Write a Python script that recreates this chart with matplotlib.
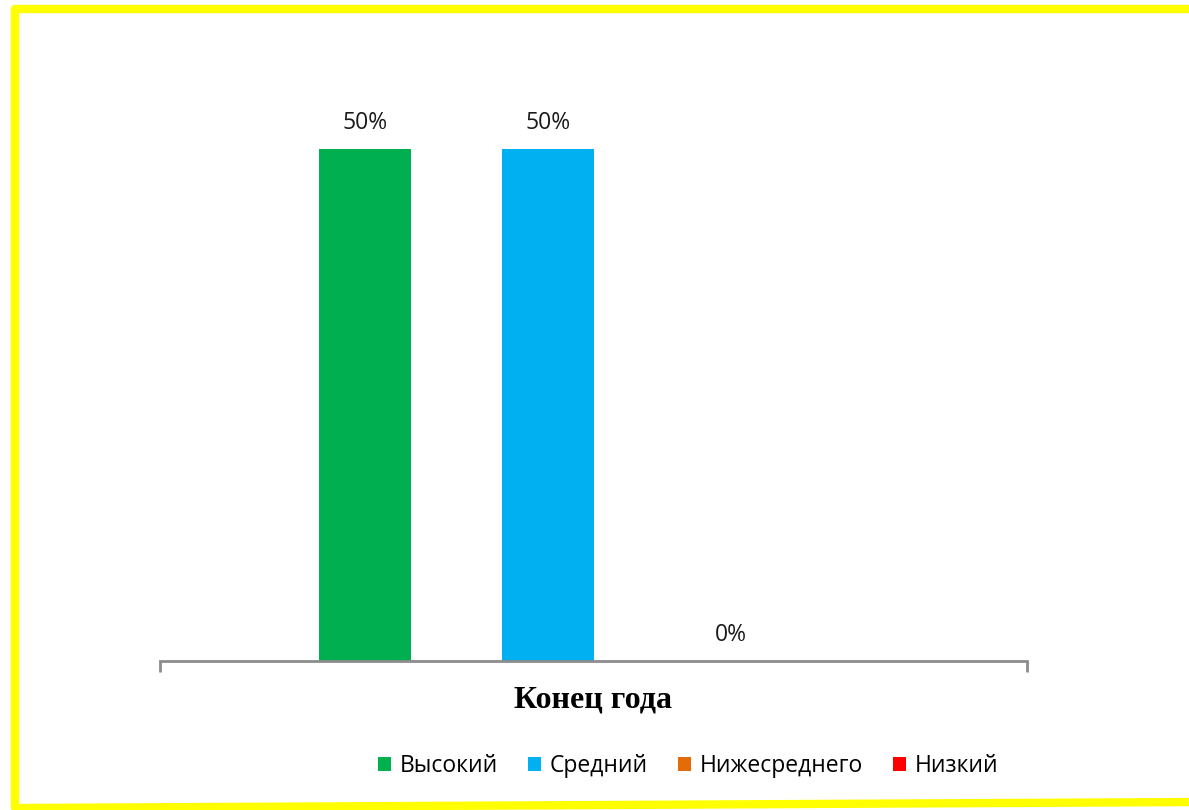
import matplotlib
matplotlib.use("Agg")
import matplotlib.pyplot as plt
from matplotlib.lines import Line2D
from matplotlib.patches import Patch

categories = ["Высокий", "Средний", "Нижесреднего", "Низкий"]
values = [0.50, 0.50, 0.0, None]
labels = ["50%", "50%", "0%", ""]
colors = ["#00B050", "#00B0F0", "#E36C09", "#FF0000"]
group_title = "Конец года"

W, H = 1189, 810
fig = plt.figure(figsize=(W / 100, H / 100), dpi=100)
ax = fig.add_axes([160 / W, 1 - 661 / H, 867 / W, (661 - 47) / H])

xs = list(range(len(categories)))
for x, v, lab, c in zip(xs, values, labels, colors):
    h = v if v is not None else 0
    ax.bar(x, h, width=0.503, color=c)
    if lab:
        ax.text(x, h + 0.02, lab, ha="center", va="baseline",
                fontsize=16.5, family="Open Sans", color="#1a1a1a")

ax.set_xlim(-1.12, 3.617)
ax.set_ylim(0, 0.6)
ax.set_yticks([])
ax.set_xticks([-1.12, 3.617])
ax.set_xticklabels([])
ax.tick_params(axis="x", length=8, width=2, color="#8c8c8c", direction="out")
for s in ["top", "right", "left"]:
    ax.spines[s].set_visible(False)
ax.spines["bottom"].set_color("#8c8c8c")
ax.spines["bottom"].set_linewidth(2)

fig.text(593 / W, 1 - 700 / H, group_title, ha="center", va="center",
         fontsize=23, fontweight="bold", family="Liberation Serif")

handles = [Patch(facecolor=c, edgecolor="none") for c in colors]
fig.legend(handles, categories, loc="center", bbox_to_anchor=(688 / W, 1 - 766 / H),
           ncol=4, frameon=False, prop={"family": "Open Sans", "size": 16.5},
           handlelength=0.57, handleheight=0.57, handletextpad=0.39, columnspacing=1.3)

# yellow frame around the chart
yc = "#FFFF00"
fx = lambda p: p / W
fy = lambda p: 1 - p / H
fig.add_artist(Line2D([fx(15), fx(15)], [fy(9), fy(807)], color=yc, lw=6, solid_capstyle="round"))
fig.add_artist(Line2D([fx(15), fx(1200)], [fy(9), fy(9)], color=yc, lw=6, solid_capstyle="round"))
fig.add_artist(Line2D([fx(15), fx(1200)], [fy(808), fy(802)], color=yc, lw=6, solid_capstyle="round"))

fig.savefig("out.png", dpi=100)
